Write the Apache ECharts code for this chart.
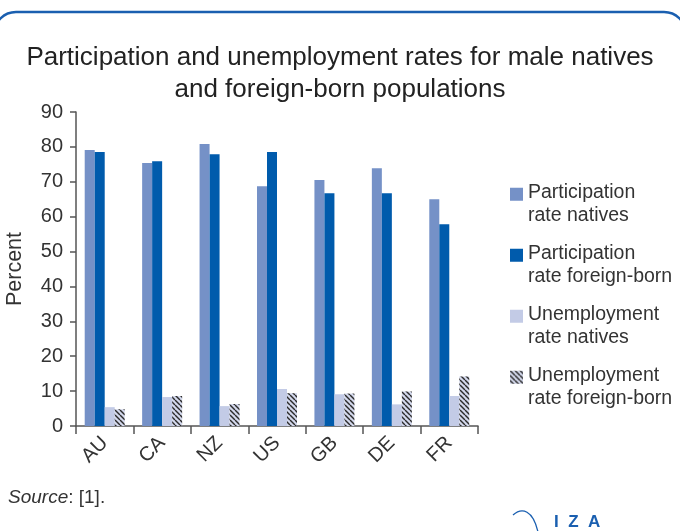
<!DOCTYPE html>
<html>
<head>
<meta charset="utf-8">
<script src="https://cdn.jsdelivr.net/npm/echarts@6/dist/echarts.min.js"></script>
<style>
  html, body { margin: 0; padding: 0; background: #fff; }
  #chart { width: 680px; height: 531px; }
</style>
</head>
<body>
<div id="chart"></div>
<script>
// data
const countries = ["AU", "CA", "NZ", "US", "GB", "DE", "FR"];
const partNatives = [79.1, 75.4, 80.8, 68.7, 70.5, 73.9, 65.0];
const partForeign = [78.5, 75.9, 77.9, 78.5, 66.7, 66.7, 57.8];
const unempNatives = [5.4, 8.3, 5.7, 10.6, 9.1, 6.2, 8.6];
const unempForeign = [4.8, 8.6, 6.3, 9.4, 9.3, 9.9, 14.2];

const seriesNames = [
  "Participation rate natives",
  "Participation rate foreign-born",
  "Unemployment rate natives",
  "Unemployment rate foreign-born"
];
const legendLabels = {
  "Participation rate natives": "Participation\nrate natives",
  "Participation rate foreign-born": "Participation\nrate foreign-born",
  "Unemployment rate natives": "Unemployment\nrate natives",
  "Unemployment rate foreign-born": "Unemployment\nrate foreign-born"
};

const font = "'Liberation Sans', Arial, sans-serif";

// hatch pattern for the last series
const makeHatch = () => {
  let c = document.createElement("canvas");
  c.width = 5;
  c.height = 5;
  let ctx = c.getContext("2d");
  ctx.fillStyle = "#d2d7eb";
  ctx.fillRect(0, 0, 5, 5);
  ctx.strokeStyle = "#2b2b2b";
  ctx.lineWidth = 1.4;
  for (let k = -5; k <= 5; k += 5) {
    ctx.beginPath();
    ctx.moveTo(k, 0);
    ctx.lineTo(k + 5, 5);
    ctx.stroke();
  }
  return c;
};
const hatch = makeHatch();

const colors = ["#7591c7", "#005bac", "#c3cbe6", { image: hatch, repeat: "repeat" }];
const values = [partNatives, partForeign, unempNatives, unempForeign];

// legend square sits on the first text line
const legendIcon = "path://M0,0L10,0L10,10L0,10Z M0,25L0.01,25";

const myChart = echarts.init(document.getElementById("chart"));

const setSeries = () => {
  let result = [];
  for (let i = 0; i < seriesNames.length; i++) {
    result.push({
      name: seriesNames[i],
      type: "bar",
      barWidth: 10,
      barGap: "0%",
      itemStyle: { color: colors[i] },
      data: values[i]
    });
  }
  return result;
};

const option = {
  animation: false,
  title: {
    text: "Participation and unemployment rates for male natives\nand foreign-born populations",
    left: "center",
    top: 37,
    textStyle: {
      fontFamily: font,
      fontSize: 26,
      fontWeight: "normal",
      color: "#222",
      lineHeight: 32
    }
  },
  legend: {
    orient: "vertical",
    left: 505,
    top: 176,
    itemWidth: 13,
    itemHeight: 33,
    itemGap: 15,
    icon: legendIcon,
    data: seriesNames,
    formatter: (name) => legendLabels[name],
    textStyle: {
      fontFamily: font,
      fontSize: 19.5,
      color: "#333",
      lineHeight: 23
    }
  },
  grid: {
    left: 76,
    right: 202,
    top: 112,
    bottom: 105,
    outerBoundsMode: "none"
  },
  xAxis: {
    type: "category",
    data: countries,
    axisLine: { lineStyle: { color: "#555", width: 1.5 } },
    axisTick: { show: true, length: 8, lineStyle: { color: "#555", width: 1.5 } },
    axisLabel: {
      rotate: 45,
      margin: 14,
      fontFamily: font,
      fontSize: 20,
      color: "#333"
    }
  },
  yAxis: {
    type: "value",
    min: 0,
    max: 90,
    interval: 10,
    name: "Percent",
    nameLocation: "middle",
    nameGap: 50,
    nameRotate: 90,
    nameTextStyle: { fontFamily: font, fontSize: 21.5, color: "#333" },
    axisLine: { show: true, lineStyle: { color: "#555", width: 1.5 } },
    axisTick: { show: true, length: 6, lineStyle: { color: "#555", width: 1.5 } },
    splitLine: { show: false },
    axisLabel: {
      margin: 13,
      fontFamily: font,
      fontSize: 20,
      color: "#333"
    }
  },
  graphic: [
    {
      type: "rect",
      silent: true,
      shape: { x: -6, y: 12, width: 692, height: 600, r: 22 },
      style: { fill: "none", stroke: "#1a5fb0", lineWidth: 2.5 }
    },
    {
      type: "text",
      left: 8,
      top: 488,
      style: {
        text: "{i|Source}: [1].",
        fontFamily: font,
        fontSize: 19,
        fill: "#333",
        rich: { i: { fontStyle: "italic", fontFamily: font, fontSize: 19, fill: "#333" } }
      }
    },
    {
      type: "bezierCurve",
      silent: true,
      shape: { x1: 513, y1: 515, x2: 538, y2: 532, cpx1: 522, cpy1: 507, cpx2: 533, cpy2: 510 },
      style: { fill: "none", stroke: "#1a5fb0", lineWidth: 1.3 }
    },
    {
      type: "text",
      left: 554,
      top: 514,
      style: {
        text: "I  Z  A",
        fontFamily: font,
        fontSize: 17,
        fontWeight: "bold",
        fill: "#1a5fb0"
      }
    }
  ],
  series: setSeries()
};
myChart.setOption(option);
</script>
</body>
</html>
